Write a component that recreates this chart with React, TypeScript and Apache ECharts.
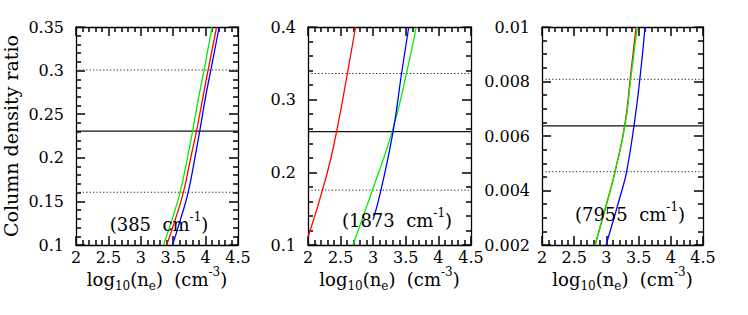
import React, { useEffect, useRef } from "react";
import * as echarts from "echarts";

// ---- data ----
const xTicks = [2, 2.5, 3, 3.5, 4, 4.5];

// Panel 1 (385 cm^-1)
const p1Green = [[3.35, 0.1], [3.485, 0.13], [3.605, 0.16], [3.72, 0.2], [3.8, 0.231], [3.895, 0.27], [3.975, 0.3], [4.1, 0.35]];
const p1Red = [[3.4, 0.1], [3.535, 0.13], [3.656, 0.16], [3.77, 0.2], [3.86, 0.231], [3.96, 0.27], [4.037, 0.3], [4.17, 0.35]];
const p1Blue = [[3.49, 0.1], [3.615, 0.13], [3.73, 0.16], [3.835, 0.2], [3.91, 0.231], [4.0, 0.27], [4.079, 0.3], [4.21, 0.35]];
const p1Obs = 0.2305;
const p1Err = [0.1605, 0.3007];

// Panel 2 (1873 cm^-1)
const p2Red = [[2.0, 0.1106], [2.28, 0.194], [2.436, 0.255], [2.604, 0.336], [2.73, 0.4]];
const p2Green = [[2.69, 0.1], [2.86, 0.143], [2.99, 0.176], [3.29, 0.256], [3.51, 0.336], [3.66, 0.4]];
const p2Blue = [[3.0, 0.135], [3.12, 0.176], [3.305, 0.256], [3.435, 0.336], [3.545, 0.4]];
const p2Obs = 0.256;
const p2Err = [0.1755, 0.336];

// Panel 3 (7955 cm^-1)
const p3Red = [[2.825, 0.002], [3.06, 0.004], [3.135, 0.0047], [3.285, 0.0064], [3.37, 0.0081], [3.46, 0.01]];
const p3Green = [[2.825, 0.002], [3.06, 0.004], [3.135, 0.0047], [3.29, 0.0064], [3.378, 0.0081], [3.48, 0.01]];
const p3Blue = [[2.995, 0.002], [3.24, 0.004], [3.315, 0.0047], [3.43, 0.0064], [3.52, 0.0081], [3.6, 0.01]];
const p3Obs = 0.00637;
const p3Err = [0.00469, 0.00808];

const panelLabels = ["385", "1873", "7955"];
const xRange = { min: 2, max: 4.5, interval: 0.5, minor: 5 };
const yRanges = [
  { min: 0.1, max: 0.35, interval: 0.05, minor: 5 },
  { min: 0.1, max: 0.4, interval: 0.1, minor: 5 },
  { min: 0.002, max: 0.01, interval: 0.002, minor: 4 },
];

const FONT = "DejaVu Serif";

const grids = [
  { left: 76, top: 27, width: 162, height: 218 },
  { left: 308, top: 27, width: 163, height: 218 },
  { left: 542, top: 27, width: 161, height: 218 },
];

const MAJOR_LEN = 9;
const MINOR_LEN = 5;

function tickList(r: { min: number; max: number; interval: number; minor: number }) {
  const step = r.interval / r.minor;
  const n = Math.round((r.max - r.min) / step);
  const out: { v: number; major: boolean }[] = [];
  for (let k = 0; k <= n; k++) out.push({ v: r.min + k * step, major: k % r.minor === 0 });
  return out;
}

export default function App() {
  const ref = useRef<HTMLDivElement>(null);
  useEffect(() => {
    if (!ref.current) return;
    const chart = echarts.init(ref.current, null, { renderer: "svg" });

    const xAxes: any[] = [];
    const yAxes: any[] = [];
    grids.forEach((g, i) => {
      ["bottom", "top"].forEach((pos) => {
        xAxes.push({
          type: "value",
          gridIndex: i,
          position: pos,
          min: xRange.min,
          max: xRange.max,
          interval: xRange.interval,
          axisLine: { show: true, onZero: false, lineStyle: { color: "#000", width: 1.3 } },
          axisTick: { show: false },
          splitLine: { show: false },
          axisLabel: {
            show: pos === "bottom",
            margin: 4,
            fontFamily: FONT,
            fontSize: 16,
            color: "#000",
          },
        });
      });
      const yr = yRanges[i];
      ["left", "right"].forEach((pos) => {
        yAxes.push({
          type: "value",
          gridIndex: i,
          position: pos,
          min: yr.min,
          max: yr.max,
          interval: yr.interval,
          axisLine: { show: true, onZero: false, lineStyle: { color: "#000", width: 1.3 } },
          axisTick: { show: false },
          splitLine: { show: false },
          axisLabel: {
            show: pos === "left",
            margin: 12,
            fontFamily: FONT,
            fontSize: 16,
            color: "#000",
          },
        });
      });
    });

    const curve = (data: number[][], color: string, idx: number) => ({
      type: "line",
      xAxisIndex: idx * 2,
      yAxisIndex: idx * 2,
      data,
      smooth: 0.5,
      showSymbol: false,
      symbol: "none",
      lineStyle: { color, width: 1.3 },
    });
    const hline = (v: number, dotted: boolean, idx: number) => ({
      type: "line",
      xAxisIndex: idx * 2,
      yAxisIndex: idx * 2,
      data: [
        [xTicks[0], v],
        [xTicks[xTicks.length - 1], v],
      ],
      showSymbol: false,
      symbol: "none",
      lineStyle: dotted
        ? { color: "#222", width: 1, type: [1.2, 2.2] }
        : { color: "#111", width: 1.3 },
    });
    // inside ticks on all four sides, placed through the axes' scales
    const ticks = (idx: number) => {
      const g = grids[idx];
      const yr = yRanges[idx];
      const yPerPx = (yr.max - yr.min) / g.height;
      const xPerPx = (xRange.max - xRange.min) / g.width;
      const data: any[] = [];
      tickList(xRange).forEach((t) => {
        const len = (t.major ? MAJOR_LEN : MINOR_LEN) * yPerPx;
        data.push({ coords: [[t.v, yr.min], [t.v, yr.min + len]] });
        data.push({ coords: [[t.v, yr.max], [t.v, yr.max - len]] });
      });
      tickList(yr).forEach((t) => {
        const len = (t.major ? MAJOR_LEN : MINOR_LEN) * xPerPx;
        data.push({ coords: [[xRange.min, t.v], [xRange.min + len, t.v]] });
        data.push({ coords: [[xRange.max, t.v], [xRange.max - len, t.v]] });
      });
      return {
        type: "lines",
        coordinateSystem: "cartesian2d",
        xAxisIndex: idx * 2,
        yAxisIndex: idx * 2,
        lineStyle: { color: "#000", width: 1.5, opacity: 1 },
        data,
      };
    };

    const series: any[] = [
      hline(p1Obs, false, 0),
      hline(p1Err[0], true, 0),
      hline(p1Err[1], true, 0),
      curve(p1Green, "#00ee00", 0),
      curve(p1Red, "#ff0000", 0),
      curve(p1Blue, "#0000ff", 0),
      ticks(0),
      hline(p2Obs, false, 1),
      hline(p2Err[0], true, 1),
      hline(p2Err[1], true, 1),
      curve(p2Red, "#ff0000", 1),
      curve(p2Green, "#00ee00", 1),
      curve(p2Blue, "#0000ff", 1),
      ticks(1),
      hline(p3Obs, false, 2),
      hline(p3Err[0], true, 2),
      hline(p3Err[1], true, 2),
      curve(p3Red, "#ff0000", 2),
      curve(p3Green, "#00ee00", 2),
      curve(p3Blue, "#0000ff", 2),
      ticks(2),
    ];

    const rich = {
      a: { fontFamily: FONT, fontSize: 18, lineHeight: 26, verticalAlign: "middle", fill: "#000", color: "#000" },
      b: { fontFamily: FONT, fontSize: 12, lineHeight: 12, verticalAlign: "bottom", fill: "#000", color: "#000" },
      c: { fontFamily: FONT, fontSize: 12, lineHeight: 12, verticalAlign: "top", fill: "#000", color: "#000" },
    };

    const labelPos = [
      [159, 224],
      [397, 220],
      [630, 214],
    ];

    const graphic: any[] = [];
    grids.forEach((g, i) => {
      graphic.push({
        type: "text",
        x: g.left + g.width / 2,
        y: 279,
        silent: true,
        style: {
          text: "{a|log}{b|10}{a|(n}{b|e}{a|)  (cm}{c|-3}{a|)}",
          rich,
          align: "center",
          verticalAlign: "middle",
        },
      });
      graphic.push({
        type: "text",
        x: labelPos[i][0],
        y: labelPos[i][1],
        silent: true,
        style: {
          text: "{a|(" + panelLabels[i] + "  cm}{c|-1}{a|)}",
          rich,
          align: "center",
          verticalAlign: "middle",
        },
        z: 10,
      });
    });
    graphic.push({
      type: "text",
      x: 11,
      y: 136,
      rotation: Math.PI / 2,
      silent: true,
      style: {
        text: "Column density ratio",
        fontFamily: FONT,
        fontSize: 19,
        fill: "#000",
        align: "center",
        verticalAlign: "middle",
      },
    });

    chart.setOption({
      animation: false,
      grid: grids,
      xAxis: xAxes,
      yAxis: yAxes,
      series,
      graphic,
    });
    return () => chart.dispose();
  }, []);
  return (
    <div
      ref={ref}
      style={{ position: "absolute", left: 0, top: 0, width: 748, height: 315 }}
    />
  );
}
